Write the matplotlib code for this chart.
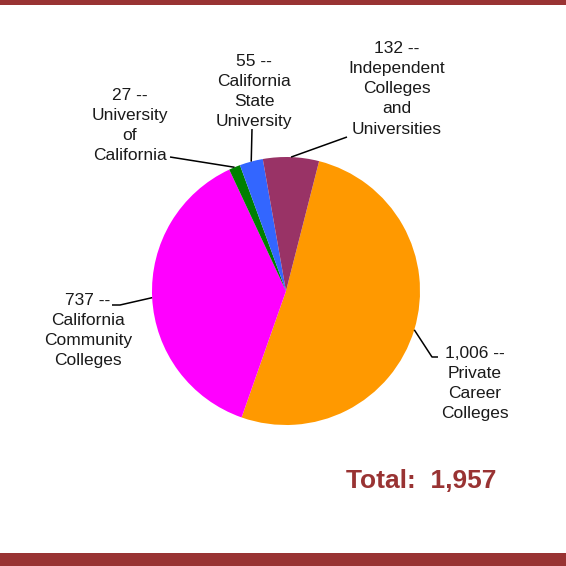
import matplotlib.pyplot as plt
import numpy as np

# segments, clockwise from the top-right
counts = [1006, 737, 27, 55, 132]
names = ['Private\nCareer\nColleges',
         'California\nCommunity\nColleges',
         'University\nof\nCalifornia',
         'California\nState\nUniversity',
         'Independent\nColleges\nand\nUniversities']
count_labels = ['1,006 --', '737 --', '27 --', '55 --', '132 --']
colours = ['#FF9900', '#FF00FF', '#008000', '#3366FF', '#993366']
total_label = 'Total:  1,957'

plt.rcParams['font.family'] = ['Liberation Sans', 'DejaVu Sans']

W = 566
fig = plt.figure(figsize=(W / 100, W / 100), dpi=100)
ax = fig.add_axes([0, 0, 1, 1])

cx, cy, R = 286, W - 291, 134
start = 75.7
wedges, _ = ax.pie(counts, colors=colours, startangle=start, counterclock=False,
                   center=(cx, cy), radius=R, frame=True,
                   wedgeprops=dict(linewidth=0))

# label text position (pixel coords, y = top of text block from top of image)
label_pos = [(475, 346), (88, 293), (130, 88), (254, 54), (397, 41)]
elbows = [[(432, 357), (438, 357)],
          [(120, 305), (112, 305)],
          [(170, 157)],
          [(252, 129)],
          [(347, 137)]]

for w, cl, nm, (tx, ty), el in zip(wedges, count_labels, names, label_pos, elbows):
    mid = np.deg2rad((w.theta1 + w.theta2) / 2)
    x0 = cx + R * np.cos(mid)
    y0 = cy + R * np.sin(mid)
    xs = [x0] + [p[0] for p in el]
    ys = [y0] + [W - p[1] for p in el]
    ax.plot(xs, ys, color='black', lw=1.1, solid_capstyle='butt')
    ax.text(tx, W - ty, cl + '\n' + nm, ha='center', va='top', fontsize=12.5,
            color='#1a1a1a', linespacing=1.43)

ax.text(421, W - 481, total_label, ha='center', va='center', fontsize=19,
        fontweight='bold', color='#993333')

# border bars
ax.axhspan(W - 4.5, W, color='#993333', lw=0)
ax.axhspan(0, W - 553, color='#993333', lw=0)

ax.set_xlim(0, W)
ax.set_ylim(0, W)
ax.set_aspect('auto')
ax.axis('off')

fig.savefig('out.png', dpi=100)
